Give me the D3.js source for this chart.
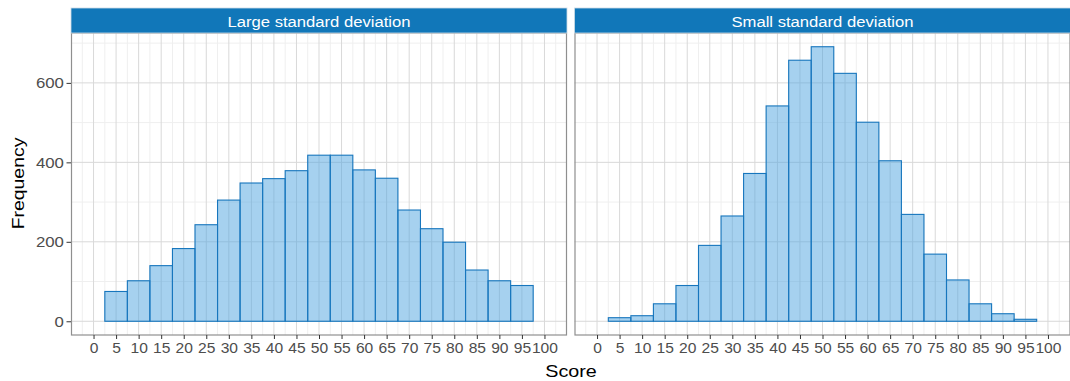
<!DOCTYPE html>
<html><head><meta charset="utf-8">
<script src="https://cdn.jsdelivr.net/npm/d3@7"></script>
<style>body{margin:0;background:#fff}</style>
</head><body>
<svg id="chart" width="1070" height="381"></svg>
<script>
// ---- data ----
const panelTitles = ["Large standard deviation", "Small standard deviation"];
const binCenters = [5, 10, 15, 20, 25, 30, 35, 40, 45, 50, 55, 60, 65, 70, 75, 80, 85, 90, 95];
const largeSD = [75, 102, 140, 183, 243, 305, 348, 359, 379, 418, 418, 381, 360, 280, 233, 199, 129, 102, 90];
const smallSD = [9, 14, 44, 90, 191, 265, 372, 542, 657, 691, 624, 501, 404, 269, 169, 104, 44, 19, 5];
const xTickValues = [0, 5, 10, 15, 20, 25, 30, 35, 40, 45, 50, 55, 60, 65, 70, 75, 80, 85, 90, 95, 100];
const yTickValues = [0, 200, 400, 600];
const xMinorValues = [-2.5, 2.5, 7.5, 12.5, 17.5, 22.5, 27.5, 32.5, 37.5, 42.5, 47.5, 52.5, 57.5, 62.5, 67.5, 72.5, 77.5, 82.5, 87.5, 92.5, 97.5, 102.5];
const yMinorValues = [100, 300, 500, 700];
const binWidth = 5;
const xLabel = "Score", yLabel = "Frequency";

// ---- layout ----
const svg = d3.select("#chart");
const FONT = "'Liberation Sans', Arial, sans-serif";
const panelTop = 33, panelBottom = 335, stripTop = 8;
const panelXs = [[71, 567], [574.5, 1070.5]];
const series = [largeSD, smallSD];

const maxVal = d3.max(series.flat());
const yPad = maxVal * 0.05;
const y = d3.scaleLinear().domain([-yPad, maxVal + yPad]).range([panelBottom, panelTop]);

series.forEach((vals, pi) => {
  const [x0, x1] = panelXs[pi];
  const x = d3.scaleLinear().domain([-5, 105]).range([x0, x1]);
  const g = svg.append("g");

  g.append("rect").attr("x", x0).attr("y", panelTop).attr("width", x1 - x0).attr("height", panelBottom - panelTop).attr("fill", "#fff");

  // minor grid
  g.selectAll(".vminor").data(xMinorValues).join("line")
    .attr("x1", d => x(d)).attr("x2", d => x(d)).attr("y1", panelTop).attr("y2", panelBottom)
    .attr("stroke", "#efefef").attr("stroke-width", 1);
  g.selectAll(".hminor").data(yMinorValues).join("line")
    .attr("y1", d => y(d)).attr("y2", d => y(d)).attr("x1", x0).attr("x2", x1)
    .attr("stroke", "#efefef").attr("stroke-width", 1);
  // major grid
  g.selectAll(".vmajor").data(xTickValues).join("line")
    .attr("x1", d => x(d)).attr("x2", d => x(d)).attr("y1", panelTop).attr("y2", panelBottom)
    .attr("stroke", "#d9d9d9").attr("stroke-width", 1);
  g.selectAll(".hmajor").data(yTickValues).join("line")
    .attr("y1", d => y(d)).attr("y2", d => y(d)).attr("x1", x0).attr("x2", x1)
    .attr("stroke", "#d9d9d9").attr("stroke-width", 1);

  // bars
  g.selectAll(".bar").data(binCenters.map((c, i) => ({c, v: vals[i]}))).join("rect")
    .attr("x", d => x(d.c - binWidth / 2))
    .attr("width", d => x(d.c + binWidth / 2) - x(d.c - binWidth / 2))
    .attr("y", d => y(d.v))
    .attr("height", d => y(0) - y(d.v))
    .attr("fill", "#4da3df").attr("fill-opacity", 0.5)
    .attr("stroke", "#1776bd").attr("stroke-width", 1.1);

  // panel border
  g.append("rect").attr("x", x0 + 0.5).attr("y", panelTop).attr("width", x1 - x0 - 1).attr("height", panelBottom - panelTop)
    .attr("fill", "none").attr("stroke", "#8f8f8f").attr("stroke-width", 1.2);

  // strip
  g.append("rect").attr("x", x0).attr("y", stripTop).attr("width", x1 - x0).attr("height", panelTop - stripTop)
    .attr("fill", "#1177b9").attr("stroke", "#cddbe5").attr("stroke-width", 0.8);
  g.append("text").attr("x", (x0 + x1) / 2).attr("y", 27)
    .attr("text-anchor", "middle").attr("fill", "#fff")
    .attr("font-family", FONT).attr("font-size", 15.4)
    .attr("transform", `translate(${(x0 + x1) / 2},0) scale(1.08,1) translate(${-(x0 + x1) / 2},0)`)
    .text(panelTitles[pi]);

  // x axis
  const xa = g.append("g").attr("transform", `translate(0,${panelBottom})`)
    .call(d3.axisBottom(x).tickValues(xTickValues).tickSize(4).tickPadding(3).tickFormat(d3.format("d")));
  xa.select(".domain").remove();
  xa.selectAll(".tick line").attr("stroke", "#333");
  xa.selectAll(".tick text").attr("fill", "#4d4d4d").attr("font-family", FONT).attr("font-size", 15)
    .attr("transform", "scale(1.04,1)");

  // y axis (left panel only)
  if (pi === 0) {
    const ya = g.append("g").attr("transform", `translate(${x0},0)`)
      .call(d3.axisLeft(y).tickValues(yTickValues).tickSize(4.5).tickPadding(1.8).tickFormat(d3.format("d")));
    ya.select(".domain").remove();
    ya.selectAll(".tick line").attr("stroke", "#333");
    ya.selectAll(".tick text").attr("fill", "#4d4d4d").attr("font-family", FONT).attr("font-size", 15)
      .attr("transform", "scale(1.12,1)");
  }
});

// axis titles
svg.append("text").attr("x", 571).attr("y", 377).attr("text-anchor", "middle")
  .attr("font-family", FONT).attr("font-size", 17).attr("fill", "#000")
  .attr("transform", "translate(571,0) scale(1.16,1) translate(-571,0)")
  .text(xLabel);
svg.append("text").attr("text-anchor", "middle")
  .attr("font-family", FONT).attr("font-size", 16.2).attr("fill", "#000")
  .attr("transform", "translate(23.5,183.5) rotate(-90) scale(1.2,1)")
  .text(yLabel);
</script>
</body></html>
